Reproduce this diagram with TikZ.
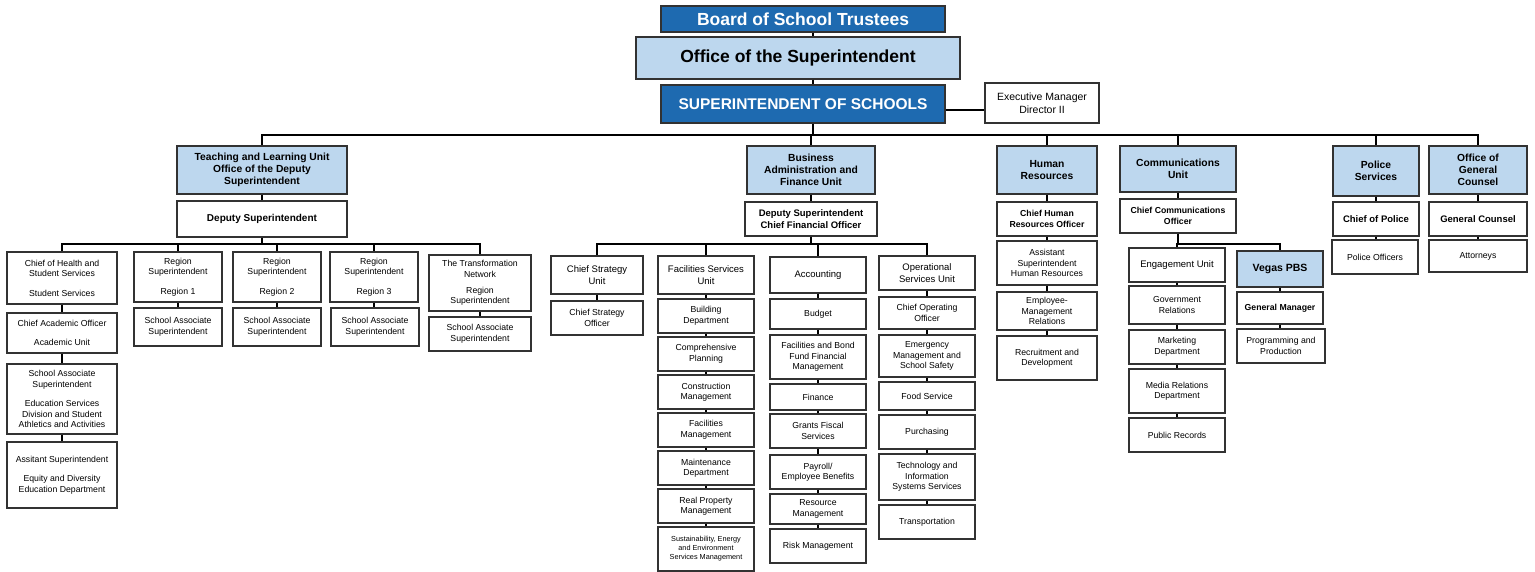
\documentclass[tikz,border=0pt]{standalone}
\usepackage{fontspec}
\setmainfont{Liberation Sans}

\definecolor{navy}{RGB}{30,106,176}
\definecolor{pale}{RGB}{189,215,238}
\definecolor{edge}{RGB}{50,50,50}

\begin{document}
\begin{tikzpicture}[x=1pt,y=-1pt,
    cell/.style={draw=edge,line width=1.2pt,fill=white,align=center,inner sep=1pt,
                 font=\fontsize{8.7}{10.5}\selectfont},
    unit/.style={cell,font=\fontsize{9.5}{11.5}\selectfont},
    head/.style={cell,fill=pale,font=\fontsize{10.3}{12}\selectfont\bfseries},
    chief/.style={cell,font=\fontsize{8.7}{10.5}\selectfont\bfseries},
    bigchief/.style={cell,font=\fontsize{9.5}{11.5}\selectfont\bfseries},
    dark/.style={cell,fill=navy,text=white},
    link/.style={line width=1.9pt,black}
    ]
    \useasboundingbox (0,0) rectangle (1535,572);

    % top of the chart
    \node (board) [dark,minimum width=284,minimum height=26,font=\fontsize{17.5}{20}\selectfont\bfseries] at (803,19) {Board of School Trustees};
    \node (office) [head,minimum width=324,minimum height=42,font=\fontsize{17.5}{20}\selectfont\bfseries] at (798,58) {Office of the Superintendent};
    \node (supt) [dark,minimum width=284,minimum height=38,font=\fontsize{15.5}{18}\selectfont\bfseries] at (803,104) {SUPERINTENDENT OF SCHOOLS};
    \node (exec) [cell,minimum width=114,minimum height=40,font=\fontsize{10.5}{12.5}\selectfont] at (1042,103) {Executive Manager\\Director II};

    % unit heads
    \node (teach) [head,minimum width=170,minimum height=48] at (262,170) {Teaching and Learning Unit\\Office of the Deputy\\Superintendent};
    \node (busi) [head,minimum width=128,minimum height=48] at (811,170) {Business\\Administration and\\Finance Unit};
    \node (hr) [head,minimum width=100,minimum height=48] at (1047,170) {Human\\Resources};
    \node (comm) [head,minimum width=116,minimum height=46] at (1178,169) {Communications\\Unit};
    \node (police) [head,minimum width=86,minimum height=50] at (1376,171) {Police\\Services};
    \node (ogc) [head,minimum width=98,minimum height=48] at (1478,170) {Office of\\General\\Counsel};

    % teaching and learning
    \node (dep) [cell,minimum width=170,minimum height=36,font=\fontsize{10}{12}\selectfont\bfseries] at (262,219) {Deputy Superintendent};
    \node (chs) [cell,minimum width=110,minimum height=52] at (62,278) {Chief of Health and\\Student Services\\[9pt]Student Services};
    \node (cao) [cell,minimum width=110,minimum height=40] at (62,333) {Chief Academic Officer\\[9pt]Academic Unit};
    \node (sas) [cell,minimum width=110,minimum height=70] at (62,399) {School Associate\\Superintendent\\[9pt]Education Services\\Division and Student\\Athletics and Activities};
    \node (asu) [cell,minimum width=110,minimum height=66] at (62,475) {Assitant Superintendent\\[9pt]Equity and Diversity\\Education Department};
    \node (reg1) [cell,minimum width=88,minimum height=50] at (178,277) {Region\\Superintendent\\[9pt]Region 1};
    \node (reg2) [cell,minimum width=88,minimum height=50] at (277,277) {Region\\Superintendent\\[9pt]Region 2};
    \node (reg3) [cell,minimum width=88,minimum height=50] at (374,277) {Region\\Superintendent\\[9pt]Region 3};
    \node (tn) [cell,minimum width=102,minimum height=56] at (480,283) {The Transformation\\Network\\[6pt]Region\\Superintendent};
    \node (sa1) [cell,minimum width=88,minimum height=38] at (178,327) {School Associate\\Superintendent};
    \node (sa2) [cell,minimum width=88,minimum height=38] at (277,327) {School Associate\\Superintendent};
    \node (sa3) [cell,minimum width=88,minimum height=38] at (375,327) {School Associate\\Superintendent};
    \node (sa4) [cell,minimum width=102,minimum height=34] at (480,334) {School Associate\\Superintendent};

    % business and finance
    \node (cfo) [bigchief,minimum width=132,minimum height=34] at (811,219) {Deputy Superintendent\\Chief Financial Officer};
    \node (csu) [unit,minimum width=92,minimum height=38] at (597,275) {Chief Strategy\\Unit};
    \node (cso) [cell,minimum width=92,minimum height=34] at (597,318) {Chief Strategy\\Officer};

    \node (fsu) [unit,minimum width=96,minimum height=38] at (706,275) {Facilities Services\\Unit};
    \node (bd) [cell,minimum width=96,minimum height=34] at (706,316) {Building\\Department};
    \node (cp) [cell,minimum width=96,minimum height=34] at (706,354) {Comprehensive\\Planning};
    \node (cm) [cell,minimum width=96,minimum height=34] at (706,392) {Construction\\Management};
    \node (fm) [cell,minimum width=96,minimum height=34] at (706,430) {Facilities\\Management};
    \node (md) [cell,minimum width=96,minimum height=34] at (706,468) {Maintenance\\Department};
    \node (rpm) [cell,minimum width=96,minimum height=34] at (706,506) {Real Property\\Management};
    \node (sem) [cell,minimum width=96,minimum height=44,font=\fontsize{7.3}{9}\selectfont] at (706,549) {Sustainability, Energy\\and Environment\\Services Management};

    \node (acc) [unit,minimum width=96,minimum height=36] at (818,275) {Accounting};
    \node (bud) [cell,minimum width=96,minimum height=30] at (818,314) {Budget};
    \node (fbf) [cell,minimum width=96,minimum height=44] at (818,357) {Facilities and Bond\\Fund Financial\\Management};
    \node (fin) [cell,minimum width=96,minimum height=26] at (818,397) {Finance};
    \node (gfs) [cell,minimum width=96,minimum height=34] at (818,431) {Grants Fiscal\\Services};
    \node (pay) [cell,minimum width=96,minimum height=34] at (818,472) {Payroll/\\Employee Benefits};
    \node (rm) [cell,minimum width=96,minimum height=30] at (818,509) {Resource\\Management};
    \node (risk) [cell,minimum width=96,minimum height=34] at (818,546) {Risk Management};

    \node (osu) [unit,minimum width=96,minimum height=34] at (927,273) {Operational\\Services Unit};
    \node (coo) [cell,minimum width=96,minimum height=32] at (927,313) {Chief Operating\\Officer};
    \node (ems) [cell,minimum width=96,minimum height=42] at (927,356) {Emergency\\Management and\\School Safety};
    \node (food) [cell,minimum width=96,minimum height=28] at (927,396) {Food Service};
    \node (pur) [cell,minimum width=96,minimum height=34] at (927,432) {Purchasing};
    \node (tech) [cell,minimum width=96,minimum height=46] at (927,477) {Technology and\\Information\\Systems Services};
    \node (trans) [cell,minimum width=96,minimum height=34] at (927,522) {Transportation};

    % human resources
    \node (chro) [chief,minimum width=100,minimum height=34] at (1047,219) {Chief Human\\Resources Officer};
    \node (asp) [cell,minimum width=100,minimum height=44] at (1047,263) {Assistant\\Superintendent\\Human Resources};
    \node (emr) [cell,minimum width=100,minimum height=38] at (1047,311) {Employee-\\Management\\Relations};
    \node (rec) [cell,minimum width=100,minimum height=44] at (1047,358) {Recruitment and\\Development};

    % communications
    \node (cco) [chief,minimum width=116,minimum height=34] at (1178,216) {Chief Communications\\Officer};
    \node (eng) [unit,minimum width=96,minimum height=34] at (1177,265) {Engagement Unit};
    \node (gov) [cell,minimum width=96,minimum height=38] at (1177,305) {Government\\Relations};
    \node (mkt) [cell,minimum width=96,minimum height=34] at (1177,347) {Marketing\\Department};
    \node (media) [cell,minimum width=96,minimum height=44] at (1177,391) {Media Relations\\Department};
    \node (pub) [cell,minimum width=96,minimum height=34] at (1177,435) {Public Records};
    \node (vpbs) [head,minimum width=86,minimum height=36,font=\fontsize{10.5}{12.5}\selectfont\bfseries] at (1280,269) {Vegas PBS};
    \node (gm) [chief,minimum width=86,minimum height=32] at (1280,308) {General Manager};
    \node (prod) [cell,minimum width=88,minimum height=34] at (1281,346) {Programming and\\Production};

    % police and counsel
    \node (cop) [bigchief,minimum width=86,minimum height=34] at (1376,219) {Chief of Police};
    \node (po) [cell,minimum width=86,minimum height=34] at (1375,257) {Police Officers};
    \node (gc) [bigchief,minimum width=98,minimum height=34] at (1478,219) {General Counsel};
    \node (att) [cell,minimum width=98,minimum height=32] at (1478,256) {Attorneys};

    % connectors
    \coordinate (topbus) at (813,135);
    \coordinate (tbus) at (262,244);
    \coordinate (fbus) at (811,244);
    \coordinate (cbus) at (1178,244);

    \draw[link] (board.south -| topbus) -- (office.north -| topbus);
    \draw[link] (office.south -| topbus) -- (supt.north -| topbus);
    \draw[link] (supt.south -| topbus) -- (topbus);
    \draw[link] ([yshift=-6]supt.east) -- ([yshift=-6]supt.east -| exec.west);
    \foreach \h in {teach,busi,hr,comm,police,ogc}
      \draw[link] (topbus) -| (\h.north);

    \draw[link] (dep.south) -- (tbus);
    \foreach \c in {chs,reg1,reg2,reg3,tn}
      \draw[link] (tbus) -| (\c.north);
    \draw[link] (cfo.south) -- (fbus);
    \foreach \c in {csu,fsu,acc,osu}
      \draw[link] (fbus) -| (\c.north);
    \draw[link] (cco.south) -- (cbus);
    \foreach \c in {eng,vpbs}
      \draw[link] (cbus) -| (\c.north);

    \foreach \a/\b in {teach/dep,chs/cao,cao/sas,sas/asu,reg1/sa1,reg2/sa2,reg3/sa3,tn/sa4,
                       busi/cfo,csu/cso,fsu/bd,bd/cp,cp/cm,cm/fm,fm/md,md/rpm,rpm/sem,
                       acc/bud,bud/fbf,fbf/fin,fin/gfs,gfs/pay,pay/rm,rm/risk,
                       osu/coo,coo/ems,ems/food,food/pur,pur/tech,tech/trans,
                       hr/chro,chro/asp,asp/emr,emr/rec,comm/cco,
                       eng/gov,gov/mkt,mkt/media,media/pub,vpbs/gm,gm/prod,
                       police/cop,cop/po,ogc/gc,gc/att}
      \draw[link] (\a.south) -- (\a.south |- \b.north);

\end{tikzpicture}
\end{document}
